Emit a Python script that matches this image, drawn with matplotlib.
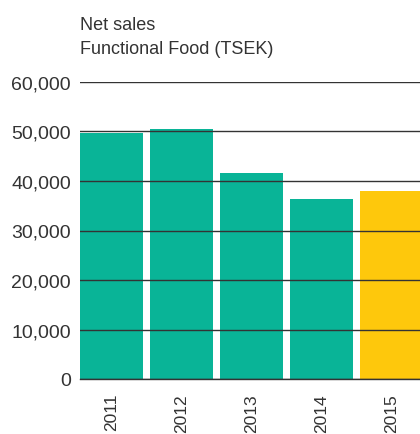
import matplotlib
matplotlib.use("Agg")
import matplotlib.pyplot as plt

years = ["2011", "2012", "2013", "2014", "2015"]
net_sales = [49700, 50500, 41600, 36400, 38000]
colors = ["#09B497", "#09B497", "#09B497", "#09B497", "#FEC80C"]
yticks = [0, 10000, 20000, 30000, 40000, 50000, 60000]
ytick_labels = ["0", "10,000", "20,000", "30,000", "40,000", "50,000", "60,000"]

plt.rcParams['font.family'] = ['Liberation Sans', 'DejaVu Sans']

fig = plt.figure(figsize=(4.2, 4.35), dpi=100)
W, H = 420, 435
ax = fig.add_axes([80 / W, 1 - 380 / H, 340 / W, (380 - 83) / H])

x = list(range(len(years)))
ax.bar(x, net_sales, width=0.9, color=colors, zorder=1)
ax.set_ylim(0, 60000)
ax.set_xlim(-0.45, 4.407)
ax.set_yticks(yticks)
ax.set_yticklabels(ytick_labels, fontsize=14, color="#333333")
ax.set_xticks(x)
ax.set_xticklabels(years, rotation=90, fontsize=12.5, color="#333333")
ax.tick_params(axis='y', length=0, pad=6.5)
ax.tick_params(axis='x', length=0, pad=10)
for lbl in ax.get_xticklabels():
    lbl.set_verticalalignment('top')

ax.grid(axis='y', color="#333333", linewidth=1.0, zorder=3)
ax.set_axisbelow(False)
for s in ["top", "right", "left"]:
    ax.spines[s].set_visible(False)
ax.spines["bottom"].set_color("#333333")
ax.spines["bottom"].set_linewidth(1.0)
ax.spines["bottom"].set_zorder(3)

fig.text(80 / W, 1 - 30 / H, "Net sales", fontsize=13, color="#333333", va="baseline", ha="left")
fig.text(80 / W, 1 - 54 / H, "Functional Food (TSEK)", fontsize=13, color="#333333", va="baseline", ha="left")

fig.savefig("out.png", dpi=100)
